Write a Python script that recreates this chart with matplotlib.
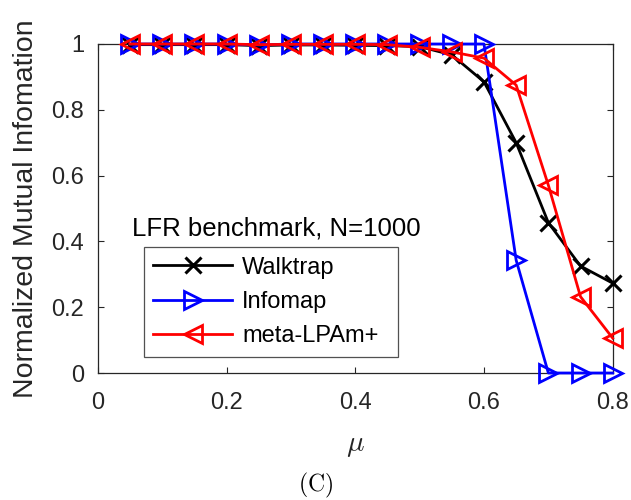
import matplotlib
matplotlib.use("Agg")
import matplotlib.pyplot as plt

plt.rcParams['font.family'] = ['Liberation Sans', 'DejaVu Sans']
plt.rcParams['mathtext.fontset'] = 'cm'

mu = [0.05, 0.10, 0.15, 0.20, 0.25, 0.30, 0.35, 0.40,
      0.45, 0.50, 0.55, 0.60, 0.65, 0.70, 0.75, 0.80]
walktrap = [0.998, 0.998, 0.998, 0.998, 0.995, 0.997, 0.997, 0.996,
            0.995, 0.992, 0.967, 0.885, 0.700, 0.457, 0.325, 0.273]
infomap = [1.0, 1.0, 1.0, 1.0, 0.997, 1.0, 1.0, 1.0,
           1.0, 1.0, 1.0, 1.0, 0.343, 0.0, 0.0, 0.0]
meta_lpam = [1.0, 1.0, 1.0, 1.0, 0.998, 0.999, 0.999, 0.999,
             0.998, 0.990, 0.976, 0.957, 0.875, 0.571, 0.232, 0.106]

grey = '#262626'

fig = plt.figure(figsize=(6.31, 5.0), dpi=100)
ax = fig.add_axes([0.155, 0.254, 0.816, 0.658])

ax.plot(mu, walktrap, color='black', lw=2, marker='x', ms=11, mew=2.2,
        label='Walktrap', clip_on=False, zorder=3)
ax.plot(mu, infomap, color='blue', lw=2, marker='>', ms=13.5, mew=2,
        mfc='none', label='Infomap', clip_on=False, zorder=4)
ax.plot(mu, meta_lpam, color='red', lw=2, marker='<', ms=13.5, mew=2,
        mfc='none', label='meta-LPAm+', clip_on=False, zorder=5)

ax.set_xlim(0, 0.8)
ax.set_ylim(0, 1)
ax.set_xticks([0, 0.2, 0.4, 0.6, 0.8])
ax.set_xticklabels(['0', '0.2', '0.4', '0.6', '0.8'])
ax.set_yticks([0, 0.2, 0.4, 0.6, 0.8, 1])
ax.set_yticklabels(['0', '0.2', '0.4', '0.6', '0.8', '1'])
ax.tick_params(direction='in', top=True, right=True, length=4.5, width=0.8,
               labelsize=17, colors=grey)
ax.tick_params(axis='x', pad=14)
ax.tick_params(axis='y', pad=10)
for s in ax.spines.values():
    s.set_color(grey)
    s.set_linewidth(0.9)

ax.set_xlabel(r'$\mu$', fontsize=21, color=grey, labelpad=12)
ax.set_ylabel('Normalized Mutual Infomation', fontsize=20.5, color=grey, labelpad=9)

ax.text(0.066, 0.44, 'LFR benchmark, N=1000', fontsize=18.5, color='black',
        transform=ax.transAxes, va='center', ha='left')

leg = ax.legend(loc='lower left', bbox_to_anchor=(0.089, 0.049, 0.494, 0.331),
                mode='expand', fontsize=17, frameon=True, fancybox=False,
                edgecolor=grey, handlelength=3.35, borderaxespad=0,
                borderpad=0.41, labelspacing=0.52, handletextpad=0.42)
leg.get_frame().set_linewidth(0.9)

fig.text(0.5, 0.03, r'$(\mathrm{C})$', fontsize=17, ha='center', va='center')

fig.savefig('out.png', dpi=100)
